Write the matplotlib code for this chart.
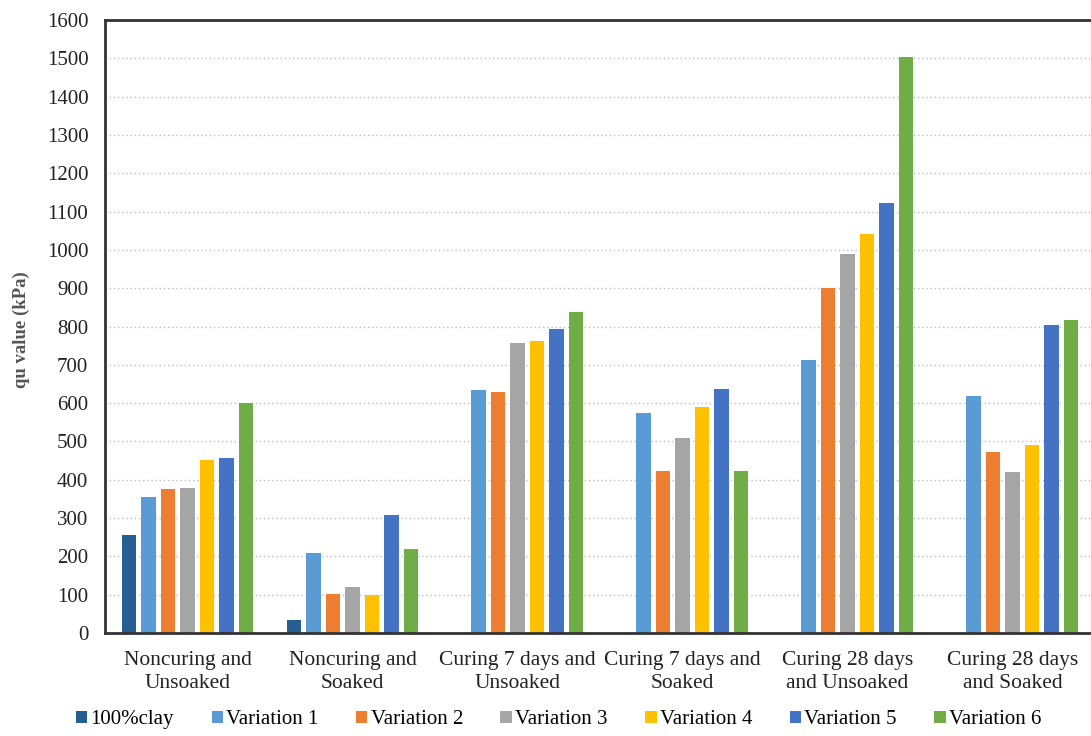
import numpy as np
import matplotlib.pyplot as plt

categories = [
    "Noncuring and\nUnsoaked",
    "Noncuring and\nSoaked",
    "Curing 7 days and\nUnsoaked",
    "Curing 7 days and\nSoaked",
    "Curing 28 days\nand Unsoaked",
    "Curing 28 days\nand Soaked",
]
series_names = ["100%clay", "Variation 1", "Variation 2", "Variation 3",
                "Variation 4", "Variation 5", "Variation 6"]
clay = [257, 33, np.nan, np.nan, np.nan, np.nan]
var1 = [355, 209, 635, 573, 712, 618]
var2 = [376, 103, 628, 423, 900, 472]
var3 = [379, 120, 757, 509, 990, 421]
var4 = [451, 99, 762, 589, 1042, 490]
var5 = [457, 309, 793, 638, 1122, 803]
var6 = [601, 220, 838, 423, 1503, 818]
colors = ["#255E91", "#5B9BD5", "#ED7D31", "#A5A5A5", "#FFC000", "#4472C4", "#70AD47"]

plt.rcParams['font.family'] = ['Liberation Serif', 'DejaVu Serif']

fig = plt.figure(figsize=(10.91, 7.36), dpi=100)
ax = fig.add_axes([105 / 1091, 103 / 736, 990 / 1091, 613 / 736])

x = np.arange(len(categories))
pitch = 0.118
width = 0.088
all_series = [clay, var1, var2, var3, var4, var5, var6]
for i, (vals, name, c) in enumerate(zip(all_series, series_names, colors)):
    ax.bar(x + (i - 3) * pitch, vals, width, color=c, label=name, zorder=2)

ax.set_xlim(-0.5, 5.5)
ax.set_ylim(0, 1600)
ax.set_yticks(np.arange(0, 1601, 100))
ax.set_xticks(x)
ax.set_xticklabels(categories, fontsize=15.5, color="#222222", linespacing=1.3)
ax.tick_params(axis="x", length=0, pad=13)
ax.tick_params(axis="y", length=0, pad=12, labelsize=15, labelcolor="#222222")

ax.yaxis.grid(True, linestyle=(0, (1, 2)), color="#bdbdbd", linewidth=1.0)
ax.set_axisbelow(True)

for side in ["left", "bottom", "top"]:
    ax.spines[side].set_linewidth(2)
    ax.spines[side].set_color("#333333")
ax.spines["right"].set_visible(False)

fig.text(0.02, (736 - 330) / 736, "qu value (kPa)", rotation=90, ha="center", va="center",
         fontsize=13.5, fontweight="bold", color="#555555")

fig.legend(loc="center", bbox_to_anchor=(0.512, 0.022), ncol=7, frameon=False,
           fontsize=15, handlelength=0.55, handleheight=0.55, handletextpad=0.15,
           columnspacing=1.8, borderaxespad=0)

fig.savefig("out.png", dpi=100)
